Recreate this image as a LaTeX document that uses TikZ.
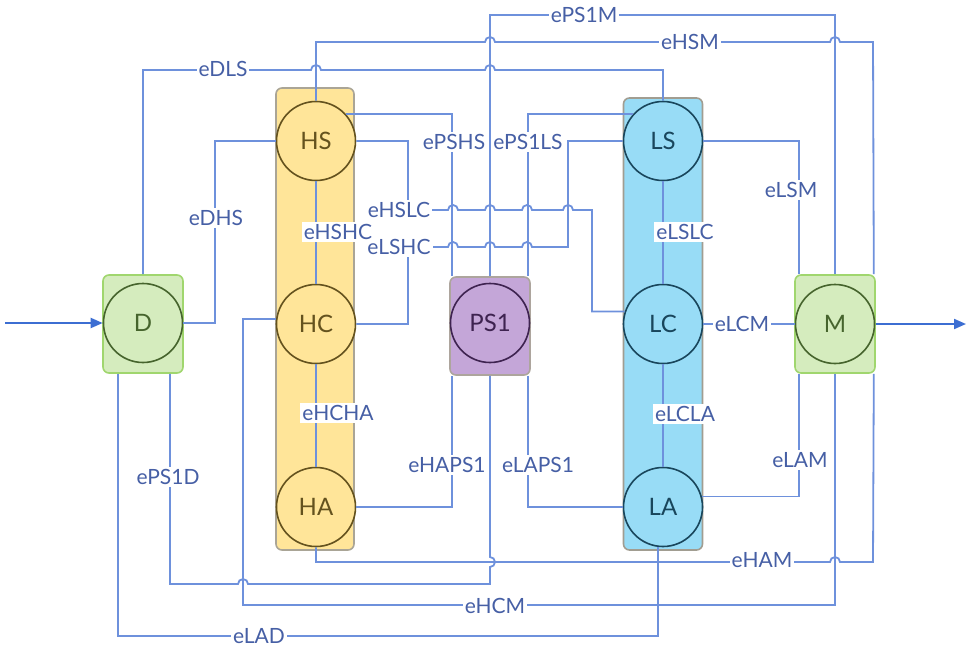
\documentclass[tikz,border=0pt]{standalone}
\usepackage{fontspec}
\setmainfont{Lato}
\usetikzlibrary{arrows.meta}

\definecolor{linkblue}{RGB}{110,145,220}
\definecolor{arrowblue}{RGB}{60,110,210}
\definecolor{lblblue}{RGB}{70,95,165}
\definecolor{hfill}{RGB}{255,229,153}
\definecolor{htext}{RGB}{100,82,30}
\definecolor{lfill}{RGB}{152,220,246}
\definecolor{ltext}{RGB}{25,70,92}
\definecolor{gfill}{RGB}{213,236,190}
\definecolor{gborder}{RGB}{160,214,110}
\definecolor{gtext}{RGB}{70,100,45}
\definecolor{pfill}{RGB}{196,166,216}
\definecolor{ptext}{RGB}{62,35,80}
\definecolor{grpborder}{RGB}{170,165,150}

\tikzset{
  hopr/.style={insert path={arc[start angle=180,end angle=0,radius=2.5pt]}},
  hopl/.style={insert path={arc[start angle=0,end angle=180,radius=2.5pt]}},
  hopd/.style={insert path={arc[start angle=90,end angle=-90,radius=2.5pt]}}
}

\begin{document}
\begin{tikzpicture}[x=0.5pt,y=-0.5pt,
  link/.style={draw=linkblue,line width=0.9pt},
  flowarrow/.style={draw=arrowblue,line width=1pt,-{Triangle[length=6pt,width=5pt]}},
  lbl/.style={fill=white,inner sep=1pt,text=lblblue,font=\fontsize{10.5}{12}\selectfont},
  st/.style={circle,line width=0.8pt,minimum size=39.5pt,inner sep=0pt,font=\fontsize{12}{14}\selectfont},
  grp/.style={rectangle,rounded corners=3pt,line width=0.8pt,inner sep=0pt}]
  \useasboundingbox (0,0) rectangle (967,647);
  % group boxes
  \node[grp,fill=gfill,draw=gborder,minimum width=40pt,minimum height=49pt] (Dbox) at (143,324) {};
  \node[grp,fill=hfill,draw=grpborder,minimum width=39pt,minimum height=231pt] (Hbox) at (315,319) {};
  \node[grp,fill=pfill,draw=grpborder!90!pfill,minimum width=40pt,minimum height=49pt] (PSbox) at (490,326) {};
  \node[grp,fill=lfill,draw=grpborder!80!gray,minimum width=39.5pt,minimum height=226pt] (Lbox) at (663,324) {};
  \node[grp,fill=gfill,draw=gborder,minimum width=40pt,minimum height=49pt] (Mbox) at (835,324) {};
  % states
  \node[st,fill=gfill,draw=gtext,text=gtext] (D) at (143,323) {D};
  \node[st,fill=hfill,draw=htext,text=htext] (HS) at (316,141) {HS};
  \node[st,fill=hfill,draw=htext,text=htext] (HC) at (316,324) {HC};
  \node[st,fill=hfill,draw=htext,text=htext] (HA) at (316,507) {HA};
  \node[st,fill=pfill,draw=ptext,text=ptext] (PS1) at (490,323) {PS1};
  \node[st,fill=lfill,draw=ltext,text=ltext] (LS) at (663,141) {LS};
  \node[st,fill=lfill,draw=ltext,text=ltext] (LC) at (663,324) {LC};
  \node[st,fill=lfill,draw=ltext,text=ltext] (LA) at (663,507) {LA};
  \node[st,fill=gfill,draw=gtext,text=gtext] (M) at (835,324) {M};
  % in and out
  \coordinate (in) at (5,323);
  \coordinate (out) at (966,324);
  \draw[flowarrow] (in) -- (D.west);
  \draw[flowarrow] (Mbox.east) -- (out);
  % top lines
  \draw[link] (Dbox.north) -- (143,70) -- (311,70) [hopr] -- (485,70) [hopr] -- (663,70) -- (LS.north);
  \draw[link] (HS.north) -- (316,42) -- (485,42) [hopr] -- (830,42) [hopr] -- (873,42) -- ([xshift=-1pt]Mbox.north east);
  \draw[link] (PSbox.north) -- (490,15) -| (Mbox.north);
  % D to HS
  \draw[link] (D.east) -- (215,323) |- (HS.west);
  % PS1 with HS and LS
  \draw[link] (HS.42) -| ([xshift=1.5pt]PSbox.north west);
  \draw[link] ([xshift=-1.5pt]PSbox.north east) |- (LS.138);
  % across the middle
  \draw[link] (HS.east) -| (408,210) -- (448,210) [hopr] -- (485,210) [hopr] -- (522,210) [hopr] -- (563,210) [hopr] -- (592,210) |- (LC.162);
  \draw[link] (LS.west) -| (568,247) -- (532,247) [hopl] -- (495,247) [hopl] -- (458,247) [hopl] -- (408,247) |- (HC.east);
  % inside the groups
  \draw[link] (HS.south) -- (HC.north);
  \draw[link] (HC.south) -- (HA.north);
  \draw[link] (LS.south) -- (LC.north);
  \draw[link] (LC.south) -- (LA.north);
  % into M
  \draw[link] (LC.east) -- (M.west);
  \draw[link] (LS.east) -| ([xshift=2.5pt]Mbox.north west);
  \draw[link] (LA.15) -| ([xshift=2.5pt]Mbox.south west);
  % into PS1 from below
  \draw[link] (HA.east) -| ([xshift=1.5pt]PSbox.south west);
  \draw[link] (LA.west) -| ([xshift=-1.5pt]PSbox.south east);
  % bottom lines
  \draw[link] (HA.south) -- (316,562) -- (830,562) [hopr] -- (873,562) -- ([xshift=-1pt]Mbox.south east);
  \draw[link] (PSbox.south) -- (490,557) [hopd] -- (490,584) -- (248,584) [hopl] -- (170,584) -- ([xshift=13.5pt]Dbox.south);
  \draw[link] (HC.173) -| (243,605) -| (Mbox.south);
  \draw[link] ([xshift=-2.5pt]LA.south) -- (658,636) -| ([xshift=-12.5pt]Dbox.south);
  % labels
  \node[lbl] (eDLS) at (223,69) {eDLS};
  \node[lbl] (ePS1M) at (584,15) {ePS1M};
  \node[lbl] (eHSM) at (690,42) {eHSM};
  \node[lbl] (eDHS) at (216,218) {eDHS};
  \node[lbl] (ePSHS) at (454,142) {ePSHS};
  \node[lbl] (ePS1LS) at (528,142) {ePS1LS};
  \node[lbl] (eHSLC) at (399,210) {eHSLC};
  \node[lbl] (eLSHC) at (399,247) {eLSHC};
  \node[lbl] (eHSHC) at (338,232) {eHSHC};
  \node[lbl] (eLSLC) at (685,232) {eLSLC};
  \node[lbl] (eLSM) at (791,190) {eLSM};
  \node[lbl] (eLCM) at (742,324) {eLCM};
  \node[lbl] (eHCHA) at (338,413) {eHCHA};
  \node[lbl] (eLCLA) at (685,414) {eLCLA};
  \node[lbl] (eHAPS1) at (447,465) {eHAPS1};
  \node[lbl] (eLAPS1) at (538,465) {eLAPS1};
  \node[lbl] (eLAM) at (800,460) {eLAM};
  \node[lbl] (ePS1D) at (168,477) {ePS1D};
  \node[lbl] (eHAM) at (762,560) {eHAM};
  \node[lbl] (eHCM) at (495,606) {eHCM};
  \node[lbl] (eLAD) at (259,636) {eLAD};
\end{tikzpicture}
\end{document}
